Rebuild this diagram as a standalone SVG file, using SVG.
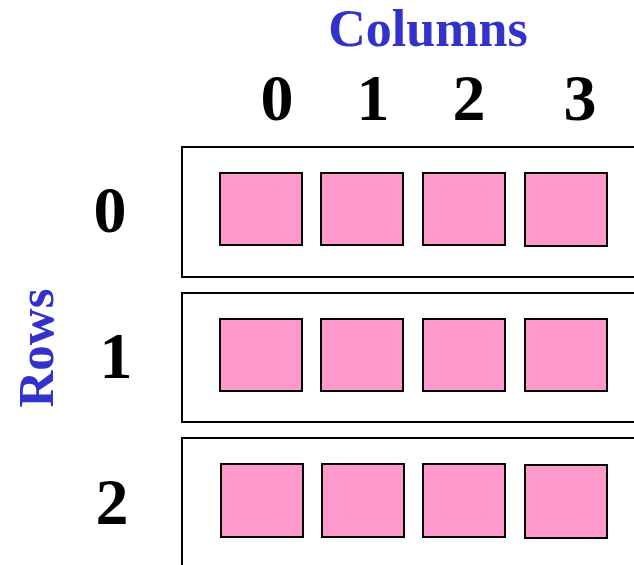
<svg xmlns="http://www.w3.org/2000/svg" width="634" height="565" viewBox="0 0 634 565">
  <style>
    .title { font-family: "Liberation Serif", "Times New Roman", serif; font-weight: bold; fill: #3333CC; }
    .idx { font-family: "Liberation Serif", "Times New Roman", serif; font-weight: bold; fill: #000; font-size: 66px; text-anchor: middle; }
    .row { fill: #fff; stroke: #000; stroke-width: 2; }
    .cell { fill: #FF99CC; stroke: #000; stroke-width: 2; }
  </style>
  <rect width="634" height="565" fill="#fff"/>

  <!-- headings -->
  <text class="title" x="428" y="46" font-size="52" text-anchor="middle">Columns</text>
  <text class="title" x="0" y="0" font-size="51" text-anchor="middle" transform="translate(53,348) rotate(-90)">Rows</text>

  <!-- column indices -->
  <g id="col-labels">
    <text class="idx" x="277" y="120">0</text>
    <text class="idx" x="373" y="120">1</text>
    <text class="idx" x="469" y="120">2</text>
    <text class="idx" x="580" y="120">3</text>
  </g>

  <!-- row 0 -->
  <g id="row0">
    <text class="idx" x="110" y="232">0</text>
    <rect class="row" x="182" y="147" width="470" height="130"/>
    <rect class="cell" x="220" y="173" width="82" height="72"/>
    <rect class="cell" x="321" y="173" width="82" height="72"/>
    <rect class="cell" x="423" y="173" width="82" height="72"/>
    <rect class="cell" x="525" y="173" width="82" height="73"/>
  </g>

  <!-- row 1 -->
  <g id="row1">
    <text class="idx" x="116" y="378">1</text>
    <rect class="row" x="182" y="293" width="470" height="129"/>
    <rect class="cell" x="220" y="319" width="82" height="72"/>
    <rect class="cell" x="321" y="319" width="82" height="72"/>
    <rect class="cell" x="423" y="319" width="82" height="72"/>
    <rect class="cell" x="525" y="319" width="82" height="72"/>
  </g>

  <!-- row 2 -->
  <g id="row2">
    <text class="idx" x="112" y="524">2</text>
    <rect class="row" x="182" y="438" width="470" height="140"/>
    <rect class="cell" x="221" y="464" width="82" height="73"/>
    <rect class="cell" x="322" y="464" width="82" height="73"/>
    <rect class="cell" x="423" y="464" width="82" height="73"/>
    <rect class="cell" x="525" y="465" width="82" height="73"/>
  </g>
</svg>
